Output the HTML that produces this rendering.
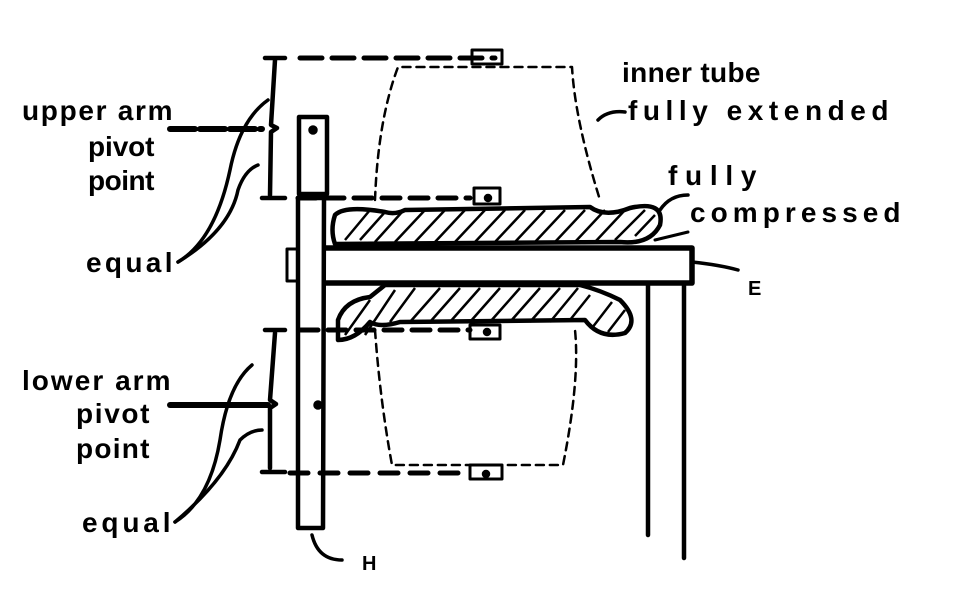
<!DOCTYPE html>
<html><head><style>
html,body{margin:0;padding:0;background:#fff;}
svg{display:block}
text{font-family:"Liberation Sans",sans-serif;font-weight:bold;fill:#000;font-size:28px;letter-spacing:1.5px}
</style></head><body>
<svg width="960" height="611" viewBox="0 0 960 611" xmlns="http://www.w3.org/2000/svg">
<g fill="none" stroke="#000" stroke-width="4.5" stroke-linecap="round" stroke-linejoin="round">
<path d="M265 58 L285 58 M275 60 L271 125 L277 128 L271 132 L270 195 M262 198 L285 198"/>
<path d="M265 330 L285 330 M275 333 L270 400 L276 404 L270 408 L270 468 M262 472 L285 472"/>
<path d="M300 58 L495 58" stroke-dasharray="22 10" stroke-width="5"/>
<path d="M298 198 L470 198" stroke-dasharray="18 10" stroke-width="5"/>
<path d="M300 330 L470 330" stroke-dasharray="18 10" stroke-width="5"/>
<path d="M290 473 L470 473" stroke-dasharray="18 12" stroke-width="5"/>
<path d="M375 200 Q378 120 398 67 L572 67 Q575 120 600 200" stroke-dasharray="8 6" stroke-width="2.5"/>
<path d="M375 330 Q380 400 392 465 L563 465 Q580 380 575 330" stroke-dasharray="8 6" stroke-width="2.5"/>
<rect x="472" y="50" width="30" height="14" stroke-width="3"/>
<rect x="474" y="188" width="26" height="16" stroke-width="3"/>
<rect x="470" y="325" width="30" height="14" stroke-width="3"/>
<rect x="470" y="465" width="32" height="14" stroke-width="3"/>
<rect x="299" y="117" width="28" height="77" stroke-width="4.5"/>
<path d="M298 198 L298 528 L323 528 L324 198 Z" stroke-width="4.5"/>
<path d="M326 248 L692 248 L692 283 L326 283" stroke-width="5.5"/>
<rect x="287" y="249" width="11" height="32" stroke-width="3"/>
<path d="M648 283 L648 535 M684 283 L684 558" stroke-width="4.5"/>
<path d="M335 215 Q345 205 385 212 Q395 215 405 210 L590 207 Q605 218 630 208 Q665 200 660 225 Q650 245 620 242 L335 244 Q330 230 335 215 Z" stroke-width="4.5"/>
<path d="M338 320 Q345 300 370 297 L385 285 L580 285 Q600 290 620 300 Q640 320 625 333 Q600 340 585 320 L400 322 Q380 328 370 322 Q355 340 338 340 Z" stroke-width="4.5"/>
<path d="M655 240 L688 232" stroke-width="3"/>
</g>
<g stroke="#000" stroke-width="2.5">
<path d="M345 240 L370 210 M360 240 L385 212 M375 242 L402 212 M395 242 L425 210 M415 242 L445 210 M435 242 L465 210 M455 242 L485 210 M475 242 L505 210 M495 242 L525 210 M515 242 L545 210 M535 242 L565 210 M555 242 L585 210 M575 242 L605 210 M595 242 L625 210 M615 240 L645 210 M635 236 L655 215"/>
<path d="M345 335 L370 300 M365 335 L395 290 M390 322 L415 288 M410 322 L440 288 M430 322 L460 288 M450 322 L480 288 M470 322 L500 288 M490 322 L520 288 M510 322 L540 288 M530 322 L560 288 M550 322 L578 288 M570 320 L590 295 M592 328 L612 302 M608 332 L625 310"/>
<circle cx="313" cy="130" r="3.5"/><circle cx="318" cy="405" r="3.5"/>
<circle cx="488" cy="198" r="3"/><circle cx="487" cy="332" r="3"/><circle cx="486" cy="474" r="3"/>
</g>
<g fill="none" stroke="#000" stroke-width="3.5" stroke-linecap="round">
<path d="M170 129 L262 129" stroke-width="6" stroke-dasharray="25 5"/>
<path d="M178 262 Q215 240 230 170 Q240 120 268 100"/>
<path d="M178 262 Q230 230 238 190 Q245 170 258 165"/>
<path d="M170 405 L268 405" stroke-width="6"/>
<path d="M175 522 Q210 500 220 440 Q228 385 252 365"/>
<path d="M175 522 Q225 480 240 440 Q250 430 262 430"/>
<path d="M598 120 Q608 110 625 112"/>
<path d="M660 210 Q670 195 688 195"/>
<path d="M692 262 Q720 265 738 270"/>
<path d="M312 535 Q318 560 342 560"/>
</g>
<text x="22" y="120" textLength="152">upper arm</text>
<text x="88" y="156" textLength="68">pivot</text>
<text x="88" y="190" textLength="68">point</text>
<text x="86" y="272" textLength="88">equal</text>
<text x="22" y="390" textLength="150">lower arm</text>
<text x="76" y="423" textLength="75">pivot</text>
<text x="76" y="458" textLength="75">point</text>
<text x="82" y="532" textLength="90">equal</text>
<text x="622" y="82" textLength="140">inner tube</text>
<text x="628" y="120" textLength="262">fully extended</text>
<text x="668" y="185" textLength="90">fully</text>
<text x="690" y="222" textLength="212">compressed</text>
<text x="748" y="295" style="font-size:20px">E</text>
<text x="362" y="570" style="font-size:20px">H</text>
</svg>
</body></html>
